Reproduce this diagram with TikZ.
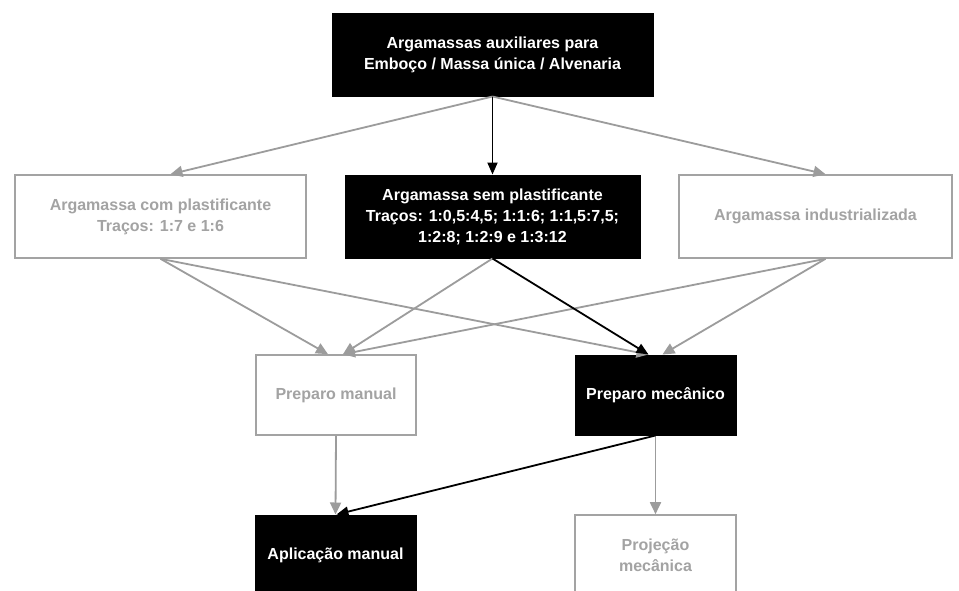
\documentclass[tikz,border=0pt]{standalone}
\usepackage{fontspec}
\setmainfont{Liberation Sans}
\usepackage{tikz}
\usetikzlibrary{arrows.meta,positioning,calc}
\definecolor{boxgray}{HTML}{A3A3A3}
\definecolor{linegray}{HTML}{9C9C9C}
\tikzstyle{graybox}=[draw=boxgray,line width=1.6pt,fill=white,text=boxgray,
  inner sep=0pt,align=center,font=\bfseries\fontsize{16}{21}\selectfont]
\tikzstyle{blackbox}=[draw=black,line width=1pt,fill=black,text=white,
  inner sep=0pt,align=center,font=\bfseries\fontsize{16}{21}\selectfont]
\tikzstyle{grayarrow}=[draw=linegray,line width=1.8pt,-{Triangle[length=12pt,width=11pt]}]
\tikzstyle{blackarrow}=[draw=black,line width=1.8pt,-{Triangle[length=12pt,width=10pt]}]

\begin{document}
\begin{tikzpicture}[x=1pt,y=-1pt]
    \clip (0,0) rectangle (959,590);
    \fill[white] (0,0) rectangle (959,590);

          \node[blackbox,minimum width=321pt,minimum height=83pt] (aux)   at (492.5,54.5) {Argamassas auxiliares para\\Emboço / Massa única / Alvenaria};
          \node[graybox,minimum width=291pt,minimum height=83pt]  (com)   at (160.5,216.5) {Argamassa com plastificante\\Traços: 1:7 e 1:6};
          \node[blackbox,minimum width=295pt,minimum height=83pt] (sem)   at (492.5,216.5) {Argamassa sem plastificante\\Traços: 1:0,5:4,5; 1:1:6; 1:1,5:7,5;\\1:2:8; 1:2:9 e 1:3:12};
          \node[graybox,minimum width=273pt,minimum height=83pt]  (ind)   at (815.5,216.5) {Argamassa industrializada};
          \node[graybox,minimum width=160pt,minimum height=80pt]  (pman)  at (336,395)   {Preparo manual};
          \node[blackbox,minimum width=161pt,minimum height=80pt] (pmec)  at (655.5,395) {Preparo mecânico};
          \node[blackbox,minimum width=161pt,minimum height=80pt] (aplic) at (335.5,555) {Aplicação manual};
          \node[graybox,minimum width=161pt,minimum height=80pt]  (proj)  at (655.5,555) {Projeção\\mecânica};

          % gray connectors
          \draw[grayarrow] (aux.south) -- ([xshift=10pt]com.north);
          \draw[grayarrow] (aux.south) -- ([xshift=10pt]ind.north);
          \draw[grayarrow] (com.south) -- ([xshift=-8pt]pman.north);
          \draw[grayarrow] (com.south) -- ([xshift=-7pt]pmec.north);
          \draw[grayarrow] (sem.south) -- ([xshift=7pt]pman.north);
          \draw[grayarrow] ([xshift=10pt]ind.south) -- ([xshift=7pt]pman.north);
          \draw[grayarrow] ([xshift=10pt]ind.south) -- ([xshift=7pt]pmec.north);
          \draw[grayarrow] (pman.south) -- (aplic.north);
          \draw[grayarrow] (pmec.south) -- (proj.north);

          % black connectors
          \draw[blackarrow] (aux.south) -- (sem.north);
          \draw[blackarrow] (sem.south) -- ([xshift=-7pt]pmec.north);
          \draw[blackarrow] (pmec.south) -- ([xshift=1pt]aplic.north);
\end{tikzpicture}
\end{document}
